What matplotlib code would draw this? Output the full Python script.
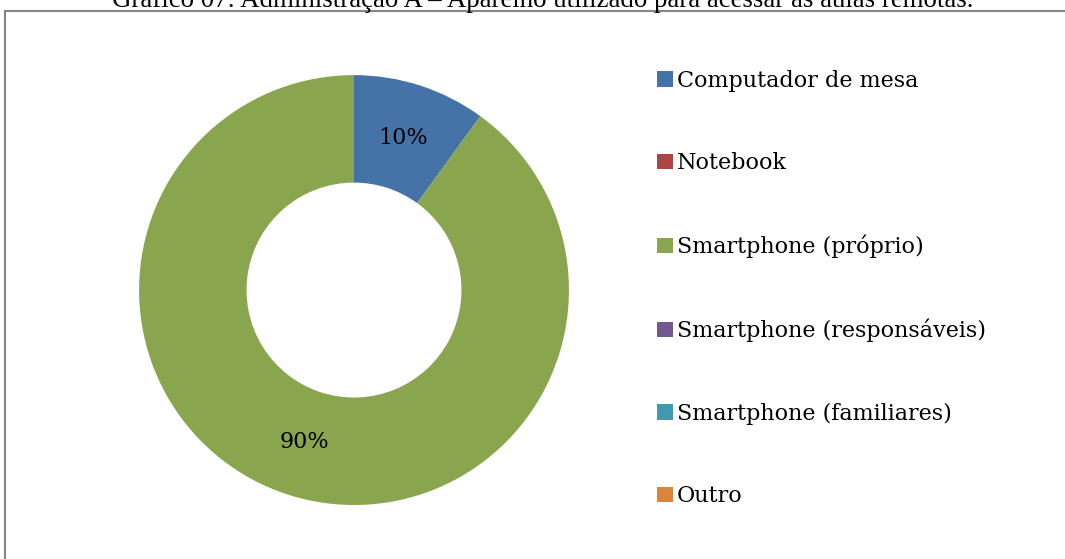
import matplotlib.pyplot as plt
from matplotlib.patches import Rectangle

title = "Gráfico 07: Administração A – Aparelho utilizado para acessar as aulas remotas."
categories = ["Computador de mesa", "Notebook", "Smartphone (próprio)",
              "Smartphone (responsáveis)", "Smartphone (familiares)", "Outro"]
values = [10, 0, 90, 0, 0, 0]
colors = ["#4572A7", "#AA4643", "#89A54E", "#71588F", "#4198AF", "#DB843D"]

plt.rcParams['font.family'] = ['DejaVu Serif']

fig = plt.figure(figsize=(10.65, 5.59), dpi=100)

# chart frame (cut off at right and bottom like the reference)
fig.patches.append(Rectangle((5 / 1065, -0.1), 1.2, 0.98 + 0.1, transform=fig.transFigure,
                             fill=False, edgecolor='#868686', linewidth=1.5))
fig.text(0.51, 0.9875, title, ha='center', va='baseline', fontsize=19.4,
         family='Liberation Serif')

ax = fig.add_axes([0.1305, 0.0966, 0.4038, 0.769])


def fmt(p):
    return f"{p:.0f}%" if p > 0 else ""


wedges, texts, autotexts = ax.pie(values, colors=colors, startangle=90, counterclock=False,
                                  radius=1, autopct=fmt, pctdistance=0.745,
                                  wedgeprops=dict(width=0.5, linewidth=0),
                                  textprops=dict(fontsize=16, color='black'))
ax.set_xlim(-1, 1)
ax.set_ylim(-1, 1)
ax.set_aspect('equal')

fig.legend(wedges, categories, loc='center left', bbox_to_anchor=(657 / 1065, 0.484),
           frameon=False, fontsize=16, labelspacing=2.72, handlelength=0.7,
           handleheight=0.7, handletextpad=0.2, borderpad=0, borderaxespad=0)

plt.savefig('out.png', dpi=100)
